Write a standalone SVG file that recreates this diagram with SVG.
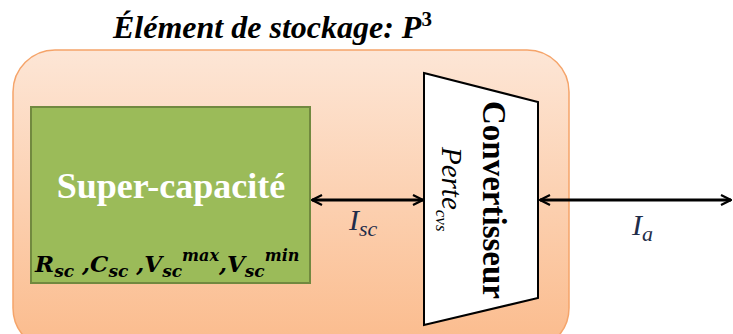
<svg xmlns="http://www.w3.org/2000/svg" width="733" height="334" viewBox="0 0 733 334">
<style>
.serif{font-family:"Liberation Serif","DejaVu Serif",serif;}
.math{font-family:"DejaVu Serif","Liberation Serif",serif;}
.conn{stroke:#000;stroke-width:3;fill:none;marker-start:url(#ah);marker-end:url(#ah);}
</style>
<defs>
<linearGradient id="og" x1="0" y1="0" x2="0" y2="1">
<stop offset="0" stop-color="#fde6d6"/>
<stop offset="1" stop-color="#fbbb8c"/>
</linearGradient>
<marker id="ah" viewBox="0 0 12 12" refX="11" refY="6" markerWidth="12" markerHeight="12" markerUnits="userSpaceOnUse" orient="auto-start-reverse">
<path d="M1,1 L11,6 L1,11" fill="none" stroke="#000" stroke-width="2.2"/>
</marker>
</defs>
<rect width="733" height="334" fill="#fff"/>
<text class="serif" x="113" y="38" font-size="32" font-weight="bold" font-style="italic">Élément de stockage: P<tspan dy="-12" font-size="21" font-style="normal">3</tspan></text>
<g id="storage">
<rect x="13" y="50" width="556" height="300" rx="42" fill="url(#og)" stroke="#f5a46a" stroke-width="1.5"/>
</g>
<g id="supercap">
<rect x="31" y="107" width="279" height="176" fill="#9bbb59" stroke="#71893f" stroke-width="2"/>
<text class="serif" x="171" y="198" font-size="36" font-weight="bold" fill="#fff" text-anchor="middle">Super-capacité</text>
<text class="math" x="35" y="272" font-size="23" font-weight="bold" font-style="italic" fill="#000">R<tspan font-size="17" dy="5">sc</tspan><tspan dy="-5"> ,C</tspan><tspan font-size="17" dy="5">sc</tspan><tspan dy="-5"> ,V</tspan><tspan font-size="17" dy="5">sc</tspan><tspan font-size="16" dy="-16">max</tspan><tspan dy="11">,V</tspan><tspan font-size="17" dy="5">sc</tspan><tspan font-size="16" dy="-16">min</tspan></text>
</g>
<g id="convertisseur">
<polygon points="424,73 538,102 538,298 424,325" fill="#fff" stroke="#000" stroke-width="2"/>
<text class="serif" transform="translate(483,200) rotate(90)" font-size="33" font-weight="bold" text-anchor="middle">Convertisseur</text>
<text class="serif" transform="translate(442,147) rotate(90)" font-size="29" font-style="italic">Perte<tspan font-size="17" dy="6">cvs</tspan></text>
</g>
<g id="connectors">
<line class="conn" x1="312" y1="200" x2="423" y2="200"/>
<line class="conn" x1="540" y1="200" x2="731" y2="200"/>
</g>
<g id="labels">
<text class="serif" x="349" y="230" font-size="30" font-style="italic" fill="#1f2d4a">I<tspan font-size="22" dy="6">sc</tspan></text>
<text class="serif" x="632" y="235" font-size="30" font-style="italic" fill="#1f2d4a">I<tspan font-size="22" dy="6">a</tspan></text>
</g>
</svg>
